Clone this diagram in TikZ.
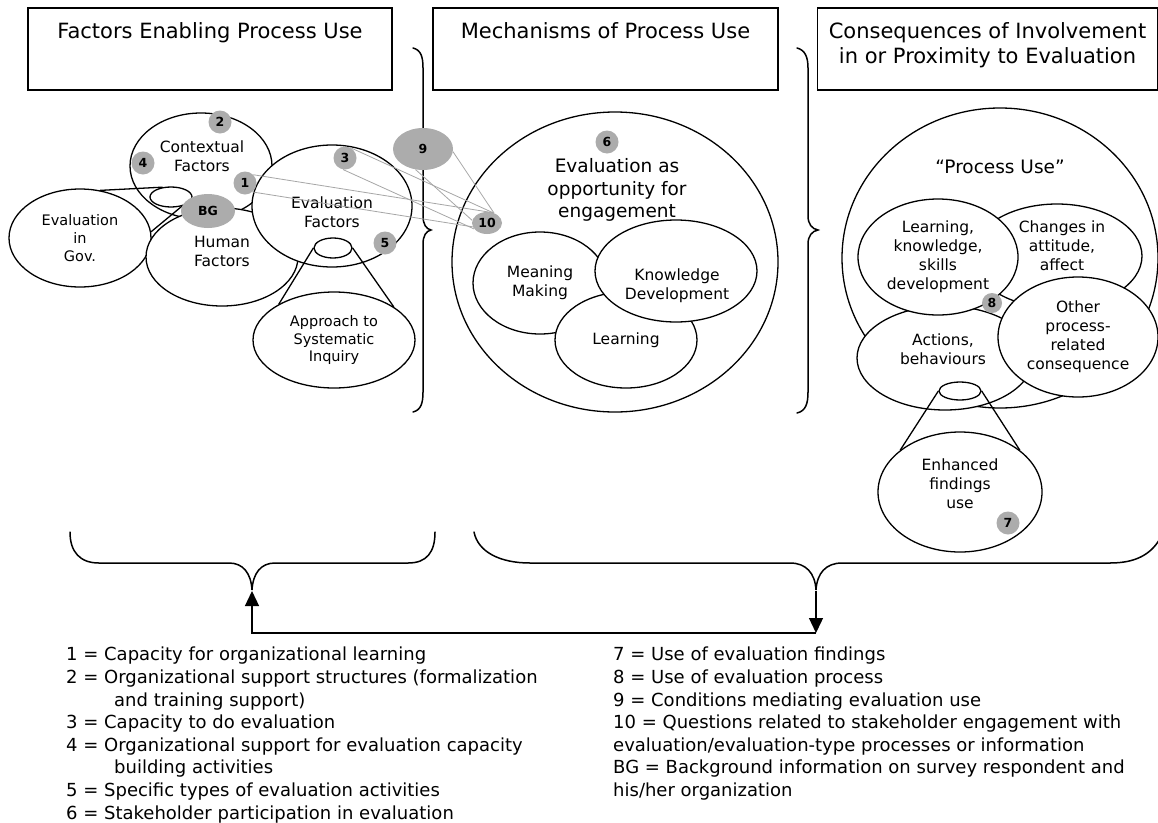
\documentclass[tikz,border=0pt]{standalone}
\usepackage{fontspec}
\setmainfont{DejaVu Sans}
\usetikzlibrary{shapes.geometric, arrows.meta, positioning}
\newcommand{\fs}[2]{\fontsize{#1}{#2}\selectfont}
\tikzstyle{titlebox} = [rectangle, draw=black, line width=1.4pt, minimum height=82pt]
\tikzstyle{titletext} = [inner sep=0pt, align=center, font=\fs{21}{25}]
\tikzstyle{factor} = [ellipse, draw=black, fill=white, line width=1.3pt, inner sep=0pt]
\tikzstyle{lens} = [ellipse, draw=black, fill=white, line width=1.3pt, inner sep=0pt]
\tikzstyle{txt} = [inner sep=0pt, align=center, font=\fs{15.5}{19}]
\tikzstyle{smalltxt} = [inner sep=0pt, align=center, font=\fs{14.5}{17.7}]
\tikzstyle{bigtxt} = [inner sep=0pt, align=center, font=\fs{18.5}{22.5}]
\tikzstyle{badge} = [circle, fill=gray!65, inner sep=0pt, minimum size=23pt, font=\bfseries\fs{12.5}{12.5}]
\tikzstyle{link} = [draw=gray!70, line width=0.8pt]
\tikzstyle{lensline} = [line width=1.3pt]
\tikzstyle{brace} = [line width=1.5pt, line cap=round]
\tikzstyle{arrow} = [line width=1.3pt, -{Triangle[width=14pt,length=15pt]}]
\tikzstyle{legend} = [anchor=north west, inner sep=0pt, align=left, font=\fs{18}{22.6}]
\begin{document}
\begin{tikzpicture}[x=1pt, y=-1pt, node distance=1cm]
\useasboundingbox (0,0) rectangle (1158,822);

% headings
\node (box1) [titlebox, minimum width=364pt] at (210,49) {};
\node (box2) [titlebox, minimum width=345pt] at (605.5,49) {};
\node (box3) [titlebox, minimum width=340pt] at (987.5,49) {};
\node (ttl1) [titletext, below=15pt of box1.north] {Factors Enabling Process Use};
\node (ttl2) [titletext, below=15pt of box2.north] {Mechanisms of Process Use};
\node (ttl3) [titletext, below=15pt of box3.north] {Consequences of Involvement\\in or Proximity to Evaluation};

% enabling factors
\node (gov) [factor, smalltxt, minimum width=142pt, minimum height=98pt] at (80,238) {Evaluation\\in\\Gov.};
\node (ctx) [factor, minimum width=142pt, minimum height=106pt] at (201,166) {};
\node (human) [factor, minimum width=152pt, minimum height=98pt] at (222,257) {};
\node (evalf) [factor, minimum width=160pt, minimum height=122pt] at (332,206) {};
\node (approach) [factor, smalltxt, minimum width=162pt, minimum height=96pt] at (334,340) {Approach to\\Systematic\\Inquiry};
\node (ctxtxt) [txt] at (202,156) {Contextual\\Factors};
\node (humantxt) [txt] at (222,251) {Human\\Factors};
\node (evalftxt) [txt] at (332,212) {Evaluation\\Factors};

\node (lensA) [lens, minimum width=42pt, minimum height=20pt] at (171,197) {};
\node (lensB) [lens, minimum width=38pt, minimum height=20pt] at (333,248) {};
\draw [lensline] (gov.67) -- (lensA.130);
\draw [lensline] (gov.5) -- (lensA.-40);
\draw [lensline] (lensB.west) -- (approach.147);
\draw [lensline] (lensB.east) -- (approach.29);

% mechanisms
\node (stage) [factor, minimum width=326pt, minimum height=300pt] at (615,262) {};
\node (meaning) [factor, txt, minimum width=134pt, minimum height=102pt] at (540,283) {Meaning\\Making};
\node (learn) [factor, txt, minimum width=142pt, minimum height=96pt] at (626,340) {Learning};
\node (know) [factor, minimum width=162pt, minimum height=102pt] at (676,271) {};
\node (stagetxt) [bigtxt] at (617,190) {Evaluation as\\opportunity for\\engagement};
\node (knowtxt) [txt] at (677,286) {Knowledge\\Development};

% consequences
\node (outcome) [factor, minimum width=316pt, minimum height=300pt] at (1000,258) {};
\node (attitude) [factor, minimum width=170pt, minimum height=104pt] at (1057,256) {};
\node (actions) [factor, minimum width=176pt, minimum height=104pt] at (945,358) {};
\node (skills) [factor, txt, minimum width=160pt, minimum height=116pt] at (938,257) {Learning,\\knowledge,\\skills\\development};
\node (other) [factor, txt, minimum width=160pt, minimum height=120pt] at (1078,337) {Other\\process-\\related\\consequence};
\node (findings) [factor, minimum width=164pt, minimum height=120pt] at (960,492) {};
\node (outcometxt) [bigtxt] at (1000,167) {“Process Use”};
\node (attitudetxt) [txt] at (1062,246) {Changes in\\attitude,\\affect};
\node (actionstxt) [txt] at (943,349) {Actions,\\behaviours};
\node (findingstxt) [txt] at (960,484) {Enhanced\\findings\\use};
\node (lensC) [lens, minimum width=42pt, minimum height=18pt] at (960,391) {};
\draw [lensline] (lensC.west) -- (findings.145);
\draw [lensline] (lensC.east) -- (findings.35);

% braces
\draw [brace] (413,48) .. controls (421,50) and (423,57) .. (423,68) -- (423,216) .. controls (423,224) and (426,229) .. (431,230) .. controls (426,231) and (423,236) .. (423,244) -- (423,392) .. controls (423,403) and (421,410) .. (413,412);
\draw [brace] (797,48) .. controls (805,50) and (808,57) .. (808,68) -- (808,216) .. controls (808,224) and (812,229) .. (818,230) .. controls (812,231) and (808,236) .. (808,244) -- (808,392) .. controls (808,403) and (806,411) .. (797,413);
\draw [brace] (70,532) .. controls (70,552) and (80,563) .. (99,563) -- (229,563) .. controls (243,563) and (251,573) .. (252,590) .. controls (253,573) and (261,563) .. (275,563) -- (408,563) .. controls (427,563) and (435,552) .. (435,532);
\draw [brace] (474,532) .. controls (478,552) and (500,563) .. (530,563) -- (790,563) .. controls (806,563) and (815,573) .. (816,590) .. controls (817,573) and (826,563) .. (842,563) -- (1110,563) .. controls (1135,563) and (1152,555) .. (1162,535);

\coordinate (tipL) at (252,591);
\coordinate (tipR) at (816,591);
\coordinate (turn) at (816,633);
\draw [arrow] (tipR) -- (turn);
\draw [arrow] (turn) -| (tipL);

% numbered questions
\node (b10) [badge, ellipse, minimum width=30pt, minimum height=22pt] at (487,223) {10};
\node (b1) [badge] at (245,183) {1};
\node (b3) [badge] at (345,158) {3};
\node (b9) [badge, ellipse, minimum width=60pt, minimum height=42pt] at (423,149) {9};
\node (b2) [badge] at (220,122) {2};
\node (b4) [badge] at (143,163) {4};
\node (bg) [badge, ellipse, minimum width=54pt, minimum height=34pt] at (208,211) {BG};
\node (b5) [badge] at (385,243) {5};
\node (b6) [badge] at (607,142) {6};
\node (b8) [badge, minimum size=20pt] at (992,303) {8};
\node (b7) [badge] at (1008,523) {7};
\draw [link] (b1.45) -- (b10.60);
\draw [link] (b1.-50) -- (b10.195);
\draw [link] (b3.60) -- (b10.60);
\draw [link] (b3.-100) -- (b10.205);
\draw [link] (b9.-5) -- (b10.55);
\draw [link] (b9.250) -- (b10.170);

% key
\node (keyleft) [legend] at (66,647) {1 = Capacity for organizational learning\\
2 = Organizational support structures (formalization\\
\hspace*{48pt}and training support)\\
3 = Capacity to do evaluation\\
4 = Organizational support for evaluation capacity\\
\hspace*{48pt}building activities\\
5 = Specific types of evaluation activities\\
6 = Stakeholder participation in evaluation};
\node (keyright) [legend] at (613,647) {7 = Use of evaluation findings\\
8 = Use of evaluation process\\
9 = Conditions mediating evaluation use\\
10 = Questions related to stakeholder engagement with\\
evaluation/evaluation-type processes or information\\
BG = Background information on survey respondent and\\
his/her organization};

\end{tikzpicture}
\end{document}
